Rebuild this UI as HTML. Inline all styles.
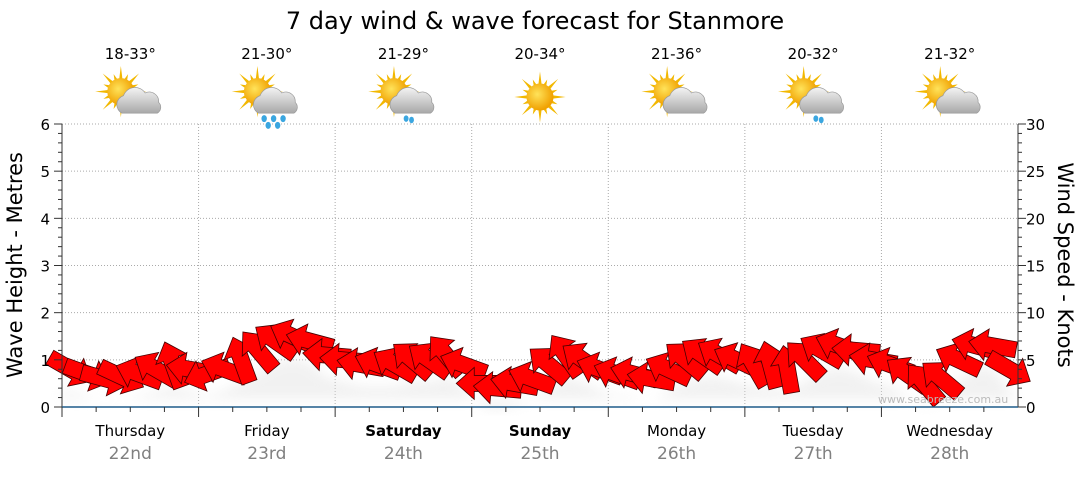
<!DOCTYPE html>
<html><head><meta charset="utf-8">
<style>
body{margin:0;background:#fff;font-family:"Liberation Sans","DejaVu Sans",sans-serif;}
svg text{font-family:"DejaVu Sans","Liberation Sans",sans-serif;}
</style></head>
<body>
<svg id="chart" width="1080" height="475" viewBox="0 0 1080 475" xmlns="http://www.w3.org/2000/svg">
<defs>
<radialGradient id="sun" cx="40%" cy="40%" r="60%"><stop offset="0" stop-color="#ffe35a"/><stop offset="1" stop-color="#f0a000"/></radialGradient>
<linearGradient id="cloud" x1="0" y1="0" x2="0" y2="1"><stop offset="0" stop-color="#f4f4f4"/><stop offset="1" stop-color="#a8a8a8"/></linearGradient>
<filter id="blur"><feGaussianBlur stdDeviation="6"/></filter>
</defs>
<text x="535" y="29" font-size="24" text-anchor="middle" fill="#000">7 day wind &amp; wave forecast for Stanmore</text>
<g id="grid"></g>
<g id="icons"></g>
<g id="shadow"></g>
<g id="arrows"></g>
<g id="axes"></g>
<text x="878" y="403" font-size="11" fill="#bbb">www.seabreeze.com.au</text>
<text transform="translate(22,265) rotate(-90)" font-size="21" text-anchor="middle">Wave Height - Metres</text>
<text transform="translate(1058,265) rotate(90)" font-size="21" text-anchor="middle">Wind Speed - Knots</text>
</svg>
<script>
const days=["Thursday","Friday","Saturday","Sunday","Monday","Tuesday","Wednesday"];
const dates=["22nd","23rd","24th","25th","26th","27th","28th"];
const boldDays=[false,false,true,true,false,false,false];
const temps=["18-33°","21-30°","21-29°","20-34°","21-36°","20-32°","21-32°"];
const icons=["cloud","rain","lightrain","sun","cloud","lightrain","cloud"];
const waveTicks=[0,1,2,3,4,5,6];
const windTicks=[0,5,10,15,20,25,30];
const windSpeed=[4,3.5,3,3.2,3.5,4,4.5,4, 3.5,4,5,6,7,7.5,7,5.5, 5,4.5,4.5,4.5,5,5,5.5,4.5, 2.5,2,2.5,3,4.5,5.5,5,4, 3.5,3.5,3,4,5,5.5,5.5,5, 4.5,4.5,4,5,6,6.5,6,5, 4.5,3.5,2.5,3,5,6.5,6.5,4];
const windDir=[30,20,15,25,200,210,250,190, 160,200,250,230,215,205,195,185, 185,190,200,210,220,215,230,200, 180,185,190,200,220,235,215,200, 200,195,190,205,220,215,210,205, 240,255,260,225,210,200,185,190, 200,215,230,220,205,195,190,30];
const X0=62,X1=1018,Y0=407,Y6=124;
const xScale=t=>X0+t*(X1-X0)/7;
const yWave=v=>Y0-v*(Y0-Y6)/6;
const yWind=k=>Y0-k*(Y0-Y6)/30;
const NS="http://www.w3.org/2000/svg";
function mk(tag,attrs,parent,txt){const e=document.createElementNS(NS,tag);for(const k in attrs)e.setAttribute(k,attrs[k]);if(txt!==undefined)e.textContent=txt;parent.appendChild(e);return e;}
const grid=document.getElementById('grid'),axes=document.getElementById('axes'),ic=document.getElementById('icons'),ar=document.getElementById('arrows'),sh=document.getElementById('shadow');
waveTicks.forEach(v=>{if(v>0){const l=mk('line',{x1:X0,x2:X1,y1:yWave(v),y2:yWave(v),stroke:'#aaa','stroke-dasharray':'1,2'},grid);}
 const t=mk('text',{x:50,y:yWave(v)+6,'font-size':15,'text-anchor':'end'},axes,v);
 mk('line',{x1:X0-8,x2:X0,y1:yWave(v),y2:yWave(v),stroke:'#333'},axes);
 if(v<6)for(let m=1;m<5;m++){const y=yWave(v+m/5);mk('line',{x1:X0-4,x2:X0,y1:y,y2:y,stroke:'#333'},axes);mk('line',{x1:X1,x2:X1+4,y1:y,y2:y,stroke:'#333'},axes);}});
windTicks.forEach(k=>{const t=mk('text',{x:1026,y:yWind(k)+6,'font-size':15},axes,k);mk('line',{x1:X1,x2:X1+8,y1:yWind(k),y2:yWind(k),stroke:'#333'},axes);});
mk('line',{x1:X0,x2:X0,y1:Y6,y2:Y0,stroke:'#333'},axes);
mk('line',{x1:X1,x2:X1,y1:Y6,y2:Y0,stroke:'#333'},axes);
mk('line',{x1:X0,x2:X1,y1:Y0,y2:Y0,stroke:'#1f5c8a','stroke-width':1.5},axes);
for(let d=0;d<7;d++){
 if(d>0){const l=mk('line',{x1:xScale(d),x2:xScale(d),y1:Y6,y2:Y0,stroke:'#aaa','stroke-dasharray':'1,2'},grid);}
 mk('line',{x1:xScale(d),x2:xScale(d),y1:Y0,y2:Y0+10,stroke:'#333'},axes);
 for(let q=1;q<4;q++)mk('line',{x1:xScale(d+q/4),x2:xScale(d+q/4),y1:Y0,y2:Y0+5,stroke:'#333'},axes);
 const cx=xScale(d+0.5);
 const a=mk('text',{x:cx,y:436,'font-size':15,'text-anchor':'middle','font-weight':boldDays[d]?'bold':'normal'},axes,days[d]);
 const b=mk('text',{x:cx,y:459,'font-size':17,'text-anchor':'middle',fill:'#808080'},axes,dates[d]);
 const t=mk('text',{x:cx,y:59,'font-size':15,'text-anchor':'middle'},ic,temps[d]);
 const g=mk('g',{transform:`translate(${cx},97) scale(1.35)`},ic);
 const sx=icons[d]==='sun'?0:-7, sy=icons[d]==='sun'?0:-4;
 for(let r=0;r<16;r++){const an=r*Math.PI/8,L=r%2?14:19;mk('polygon',{points:`${sx+Math.cos(an-0.14)*9},${sy+Math.sin(an-0.14)*9} ${sx+Math.cos(an)*L},${sy+Math.sin(an)*L} ${sx+Math.cos(an+0.14)*9},${sy+Math.sin(an+0.14)*9}`,fill:'#f2b800'},g);}
 mk('circle',{cx:sx,cy:sy,r:10,fill:'url(#sun)'},g);
 if(icons[d]!=='sun'){mk('path',{d:'M-6,12 a7,7 0 0 1 1,-13 a9,9 0 0 1 16,-2 a7,7 0 0 1 10,7 a5,5 0 0 1 -1,8 z',fill:'url(#cloud)',stroke:'#999','stroke-width':0.5},g);}
 if(icons[d]==='rain'){[[-2,16],[5,16],[12,16],[1,21],[8,21]].forEach(p=>mk('ellipse',{cx:p[0],cy:p[1],rx:2,ry:2.6,fill:'#3aa6e0'},g));}
 if(icons[d]==='lightrain'){[[2,16],[6,17]].forEach(p=>mk('ellipse',{cx:p[0],cy:p[1],rx:1.8,ry:2.4,fill:'#3aa6e0'},g));}
}
let sp='M'+xScale(0)+','+(yWind(windSpeed[0])+22);
windSpeed.forEach((k,i)=>{sp+=' L'+xScale((i+0.5)/8)+','+(yWind(k)+22);});
sp+=' L'+X1+','+(Y0-8)+' L'+X0+','+(Y0-8)+' Z';
mk('path',{d:sp,fill:'#ddd',opacity:0.4,filter:'url(#blur)'},sh);
windSpeed.forEach((k,i)=>{
 const x=xScale((i+0.5)/8),y=yWind(k);
 const p=mk('polygon',{points:'-24,-8 6,-8 6,-16 24,0 6,16 6,8 -24,8',fill:'#ff0000',stroke:'#400','stroke-width':0.8,transform:`translate(${x},${y}) rotate(${windDir[i]})`},ar);
 
 
});
</script>
</body></html>
